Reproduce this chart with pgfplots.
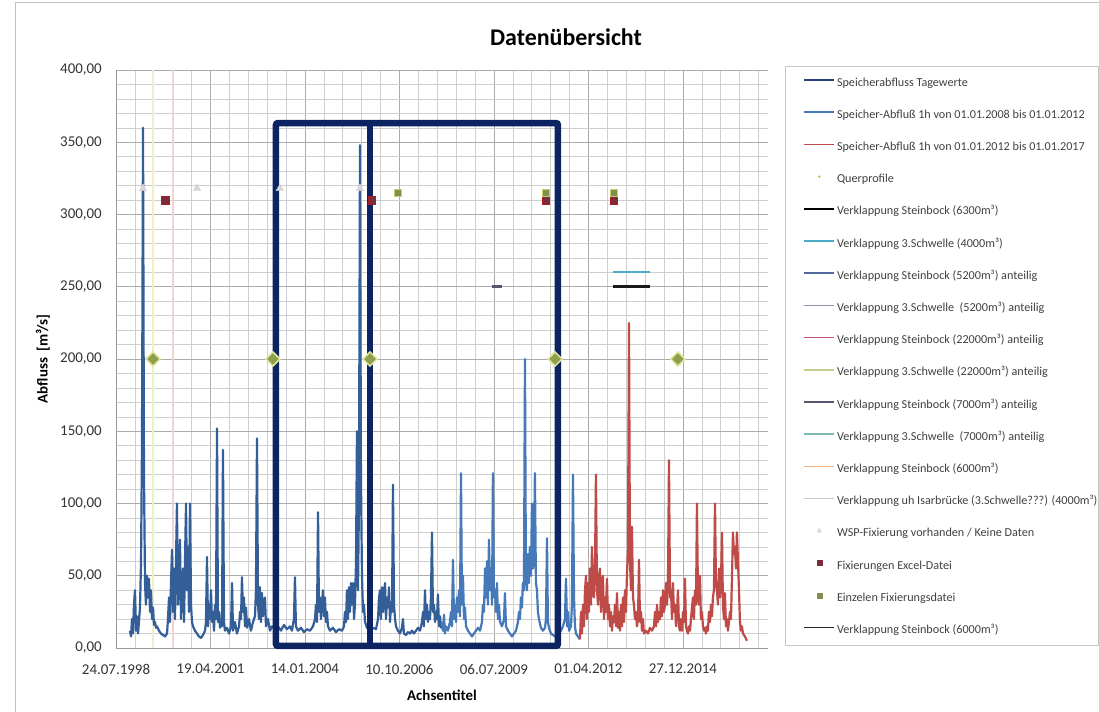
\documentclass[border=0pt]{standalone}
\usepackage{pgfplots}
\pgfplotsset{compat=1.18}
\usepackage{fontspec}
\setmainfont{Carlito}
\definecolor{sA}{HTML}{335E98}
\definecolor{sB}{HTML}{4679B8}
\definecolor{sC}{HTML}{BE4B48}
\definecolor{qp}{HTML}{8E9F4E}
\definecolor{qpglow}{HTML}{E2E6A0}
\definecolor{maroonsq}{HTML}{7B2C3B}
\definecolor{olivesq}{HTML}{7F8F4D}
\definecolor{wsp}{HTML}{D6D6D6}
\definecolor{navybox}{HTML}{0C2461}
\definecolor{cyanL}{HTML}{4BACC6}
\definecolor{lgA}{HTML}{23427A}
\definecolor{lgSeven}{HTML}{4F6A9A}
\definecolor{lgEight}{HTML}{8D8FB5}
\definecolor{lgNine}{HTML}{C0506E}
\definecolor{lgTen}{HTML}{C9CC8F}
\definecolor{lgEleven}{HTML}{5A5470}
\definecolor{lgTwelve}{HTML}{7FBABA}
\definecolor{lgThirteen}{HTML}{F5B27E}
\definecolor{lgFourteen}{HTML}{C8C8C8}
\definecolor{paleY}{HTML}{EEF0C4}
\definecolor{paleP}{HTML}{F3D2D2}
\begin{document}
\begin{tikzpicture}[x=1bp,y=1bp]
\path[use as bounding box] (0,0) rectangle (1099,-712);
\draw[black!25, line width=1bp] (15,-712) -- (15,-3) -- (1099,-3);
\node[font=\bfseries\fontsize{24}{28}\selectfont] at (566,-37) {Datenübersicht};
\draw[black!22, line width=0.8bp] (785,-66) rectangle (1098,-645);
\begin{axis}[
  at={(116bp,-648bp)}, anchor=south west,
  scale only axis, width=652bp, height=578bp,
  xmin=36000, xmax=42900, ymin=0, ymax=400,
  clip=false,
  scaled x ticks=false, scaled y ticks=false,
  axis lines*=left,
  axis line style={draw=black!40, line width=0.8bp},
  xtick={36000,37000,38000,39000,40000,41000,42000},
  xticklabels={24.07.1998,19.04.2001,14.01.2004,10.10.2006,06.07.2009,01.04.2012,27.12.2014},
  ytick={0,50,100,150,200,250,300,350,400},
  yticklabels={{0,00},{50,00},{100,00},{150,00},{200,00},{250,00},{300,00},{350,00},{400,00}},
  minor xtick={36200,36400,...,42800},
  minor ytick={10,20,...,390},
  grid=both,
  major grid style={draw=black!33, line width=0.8bp},
  minor grid style={draw=black!19, line width=0.6bp},
  major tick length=0pt, minor tick length=0pt,
  tick label style={font=\fontsize{15}{18}\selectfont, text=black!80},
  xticklabel style={anchor=center, yshift=-21bp},
  yticklabel style={anchor=east, inner sep=0pt, xshift=-14bp},
  ylabel={Abfluss\ \ [m³/s]},
  ylabel style={at={(axis description cs:-0.112,0.5)}, anchor=center, font=\bfseries\fontsize{15}{18}\selectfont},
  xlabel={Achsentitel},
  xlabel style={at={(axis description cs:0.5,-0.0813)}, anchor=center, font=\bfseries\fontsize{15}{18}\selectfont},
  legend image code/.code={\draw[mark repeat=2,mark phase=2,#1] plot coordinates {(0bp,3bp) (15bp,3bp) (30bp,3bp)};},
  legend style={at={(axis description cs:1.0537,0.987)}, anchor=north west, draw=none, fill=none,
    inner sep=0pt, outer sep=0pt, row sep=21.2bp,
    font=\fontsize{12.2}{14}\selectfont,
    nodes={inner xsep=1.5bp, inner ysep=0pt, text height=8.5bp, text depth=2.5bp, text=black!75}},
  legend cell align=left,
]
% faint vertical lines
\addplot[paleY, line width=1.5bp, forget plot] coordinates {(36392,0) (36392,400)};
\addplot[paleP, line width=1.5bp, forget plot] coordinates {(36603,0) (36603,400)};
% series 1 daily
\addplot[sA, line width=2.2bp, line join=round, forget plot] coordinates {
(36148,12)(36159,8)(36169,20)(36180,10)(36190,30)(36201,40)(36212,12)(36222,22)(36233,10)(36243,18)(36254,28)(36265,60)(36275,142)(36286,360)(36296,120)(36307,45)(36317,30)(36328,50)(36339,35)(36349,48)(36360,25)(36370,40)(36381,20)(36392,28)(36402,16)(36413,18)(36423,14)(36434,15)(36455,12)(36476,10)(36497,9)(36519,8)(36540,10)(36550,20)(36561,35)(36571,18)(36582,45)(36593,68)(36603,25)(36614,55)(36624,20)(36635,60)(36645,100)(36656,30)(36667,50)(36677,75)(36688,20)(36698,45)(36709,55)(36720,18)(36730,60)(36741,100)(36751,40)(36762,70)(36772,25)(36783,100)(36794,30)(36804,18)(36815,15)(36836,12)(36857,10)(36878,8)(36899,7)(36921,9)(36942,12)(36952,18)(36963,63)(36974,15)(36984,30)(36995,20)(37005,40)(37016,18)(37027,25)(37037,12)(37048,30)(37058,20)(37069,152)(37079,18)(37090,25)(37101,14)(37111,20)(37122,15)(37132,137)(37143,18)(37153,12)(37174,14)(37196,10)(37217,15)(37228,45)(37238,12)(37259,18)(37280,10)(37302,15)(37312,25)(37323,20)(37333,49)(37344,25)(37354,35)(37365,15)(37376,28)(37386,14)(37407,20)(37428,12)(37450,18)(37471,22)(37481,40)(37492,145)(37503,30)(37513,20)(37524,42)(37534,18)(37545,38)(37556,22)(37566,30)(37577,35)(37587,15)(37608,20)(37630,12)(37651,15)(37682,13)(37714,15)(37746,12)(37777,16)(37809,13)(37841,15)(37862,12)(37883,20)(37894,49)(37904,15)(37926,12)(37958,14)(37989,11)(38021,13)(38053,12)(38085,15)(38106,20)(38116,30)(38127,18)(38138,94)(38148,25)(38159,35)(38169,20)(38180,30)(38190,40)(38201,22)(38211,35)(38222,18)(38233,25)(38243,15)(38264,12)(38296,14)(38328,11)(38360,13)(38392,12)(38413,15)(38423,25)(38434,18)(38444,40)(38455,20)(38466,42)(38476,25)(38487,45)(38497,30)(38508,45)(38519,20)(38529,30)(38540,60)(38550,150)(38561,40)(38571,100)(38582,348)(38592,120)(38603,50)(38614,25)(38624,30)(38635,18)(38656,14)(38688,12)(38720,14)(38751,13)(38773,20)(38783,35)(38794,40)(38804,20)(38815,42)(38826,25)(38836,38)(38847,45)(38857,20)(38868,35)(38879,28)(38889,42)(38900,18)(38910,30)(38921,25)(38931,113)(38942,30)(38953,20)(38963,15)(38984,12)(39005,10)(39026,14)(39037,20)(39047,10)(39069,9)(39090,11)(39111,10)(39132,12)(39153,10)(39175,12)(39196,14)(39217,12)(39238,18)(39249,25)(39259,15)(39270,40)(39280,20)(39291,30)(39302,18)(39312,25)(39323,20)(39333,35)(39344,80)(39354,25)(39365,30)(39376,18)(39386,25)(39397,20)(39407,37)(39418,15)(39429,22)(39439,14)(39448,18)
};
% series 2 hourly 2008-2012
\addplot[sB, line width=2.2bp, line join=round, forget plot] coordinates {
(39448,18)(39460,12)(39471,23)(39481,10)(39492,15)(39513,12)(39534,18)(39545,25)(39555,15)(39566,61)(39577,20)(39587,30)(39598,18)(39608,35)(39619,25)(39630,40)(39640,22)(39651,121)(39661,30)(39672,50)(39683,20)(39693,28)(39704,15)(39725,12)(39746,10)(39767,8)(39788,10)(39809,12)(39831,14)(39852,12)(39873,18)(39883,30)(39894,25)(39905,55)(39915,35)(39926,60)(39936,30)(39947,75)(39958,40)(39968,55)(39979,30)(39989,121)(40000,35)(40011,40)(40021,25)(40032,45)(40042,20)(40053,30)(40064,18)(40085,15)(40106,20)(40116,38)(40127,15)(40148,12)(40169,10)(40190,8)(40212,10)(40233,12)(40254,18)(40264,25)(40275,20)(40285,35)(40296,28)(40306,45)(40317,40)(40328,200)(40338,50)(40349,40)(40359,65)(40370,45)(40380,70)(40391,50)(40402,100)(40412,55)(40423,60)(40433,121)(40444,45)(40455,40)(40465,25)(40476,20)(40497,14)(40518,12)(40540,14)(40550,20)(40561,76)(40571,18)(40582,14)(40603,10)(40624,9)(40645,8)(40667,8)(40688,10)(40709,12)(40730,15)(40751,20)(40762,48)(40773,15)(40783,25)(40794,12)(40815,15)(40825,30)(40836,120)(40847,35)(40857,15)(40868,10)(40889,8)(40910,6)
};
% series 3 hourly 2012-2017
\addplot[sC, line width=2.2bp, line join=round, forget plot] coordinates {
(40910,6)(40921,25)(40931,10)(40942,30)(40952,15)(40963,40)(40974,50)(40984,20)(40995,45)(41005,25)(41016,55)(41027,30)(41037,70)(41048,40)(41058,35)(41069,55)(41079,120)(41090,40)(41101,30)(41111,50)(41122,55)(41132,25)(41143,40)(41153,50)(41164,20)(41175,35)(41185,25)(41196,48)(41206,20)(41217,30)(41228,15)(41238,25)(41249,12)(41259,22)(41270,18)(41280,30)(41291,15)(41302,38)(41312,14)(41323,25)(41333,12)(41344,30)(41355,15)(41365,35)(41376,18)(41386,40)(41397,25)(41407,50)(41418,70)(41429,225)(41439,60)(41450,40)(41460,84)(41471,35)(41481,30)(41492,20)(41503,25)(41513,15)(41524,20)(41535,61)(41545,18)(41556,25)(41566,12)(41577,20)(41587,10)(41609,12)(41630,10)(41651,14)(41672,12)(41693,15)(41704,25)(41715,15)(41725,30)(41736,18)(41746,25)(41757,20)(41767,35)(41778,22)(41789,40)(41799,25)(41810,30)(41820,45)(41831,30)(41842,50)(41852,130)(41863,35)(41873,40)(41884,20)(41894,45)(41905,25)(41916,30)(41926,15)(41937,25)(41947,40)(41958,15)(41968,12)(41979,20)(41990,12)(42000,25)(42011,18)(42021,48)(42032,15)(42042,12)(42053,10)(42064,15)(42074,12)(42085,20)(42095,28)(42106,35)(42116,20)(42127,40)(42138,30)(42148,100)(42159,35)(42169,30)(42180,50)(42190,20)(42201,25)(42212,15)(42222,12)(42233,14)(42243,10)(42254,15)(42264,12)(42275,25)(42286,18)(42296,30)(42307,22)(42317,35)(42328,40)(42339,100)(42349,45)(42360,40)(42370,30)(42381,55)(42391,35)(42402,45)(42413,80)(42423,30)(42434,20)(42444,38)(42455,15)(42466,20)(42476,12)(42487,18)(42497,25)(42508,20)(42519,50)(42529,80)(42540,65)(42550,70)(42561,55)(42571,80)(42582,60)(42593,40)(42603,18)(42614,12)(42624,15)(42635,10)(42656,8)(42677,5)
};
% Querprofile
\addplot[only marks, mark=square*, mark size=5bp, mark options={rotate=45, fill=qp, draw=qpglow, line width=1.5bp}, forget plot] coordinates {(36392,200)(37661,200)(38688,200)(40646,200)(41947,200)};
% Verklappung lines
\addplot[black!90, line width=3bp, forget plot] coordinates {(41259,250)(41651,250)};
\addplot[cyanL, line width=2bp, forget plot] coordinates {(41259,260)(41651,260)};
\addplot[lgEleven, line width=3bp, forget plot] coordinates {(39979,250)(40085,250)};
% WSP triangles
\addplot[only marks, mark=triangle*, mark size=4.5bp, mark options={fill=wsp, draw=wsp}, forget plot] coordinates {(36286,318)(36857,318)(37735,318)(38582,318)};
% Fixierungen Excel
\addplot[only marks, mark=square*, mark size=3.8bp, mark options={fill=maroonsq, draw=red!40!maroonsq, line width=0.6bp}, forget plot] coordinates {(36519,310)(38709,310)(40550,310)(41270,310)};
% Einzelen
\addplot[only marks, mark=square*, mark size=3.8bp, mark options={fill=olivesq, draw=olivesq!60!yellow!70!white, line width=0.6bp}, forget plot] coordinates {(38984,315)(40550,315)(41270,315)};
% annotation frame
\draw[navybox, line width=6.5bp, rounded corners=2bp] (axis cs:37693,1.4) rectangle (axis cs:40677,363.3);
\draw[navybox, line width=6.5bp] (axis cs:38688,1.4) -- (axis cs:38688,363.3);
% legend
\addlegendimage{lgA, line width=1.6bp}
\addlegendentry{Speicherabfluss Tagewerte}
\addlegendimage{sB, line width=1.6bp}
\addlegendentry{Speicher-Abfluß 1h von 01.01.2008 bis 01.01.2012}
\addlegendimage{sC, line width=1.6bp}
\addlegendentry{Speicher-Abfluß 1h von 01.01.2012 bis 01.01.2017}
\addlegendimage{only marks, mark=*, mark size=1.3bp, mark options={fill=qp, draw=qpglow}}
\addlegendentry{Querprofile}
\addlegendimage{black, line width=2.5bp}
\addlegendentry{Verklappung Steinbock (6300m³)}
\addlegendimage{cyanL, line width=1.6bp}
\addlegendentry{Verklappung 3.Schwelle (4000m³)}
\addlegendimage{lgSeven, line width=1.6bp}
\addlegendentry{Verklappung Steinbock (5200m³) anteilig}
\addlegendimage{lgEight, line width=1.6bp}
\addlegendentry{Verklappung 3.Schwelle\ \ (5200m³) anteilig}
\addlegendimage{lgNine, line width=1.6bp}
\addlegendentry{Verklappung Steinbock (22000m³) anteilig}
\addlegendimage{lgTen, line width=1.6bp}
\addlegendentry{Verklappung 3.Schwelle (22000m³) anteilig}
\addlegendimage{lgEleven, line width=1.6bp}
\addlegendentry{Verklappung Steinbock (7000m³) anteilig}
\addlegendimage{lgTwelve, line width=1.6bp}
\addlegendentry{Verklappung 3.Schwelle\ \ (7000m³) anteilig}
\addlegendimage{lgThirteen, line width=1.6bp}
\addlegendentry{Verklappung Steinbock (6000m³)}
\addlegendimage{lgFourteen, line width=1bp}
\addlegendentry{Verklappung uh Isarbrücke (3.Schwelle???) (4000m³)}
\addlegendimage{only marks, mark=triangle*, mark size=2.5bp, mark options={fill=wsp, draw=wsp}}
\addlegendentry{WSP-Fixierung vorhanden / Keine Daten}
\addlegendimage{only marks, mark=square*, mark size=2.5bp, mark options={fill=maroonsq, draw=maroonsq}}
\addlegendentry{Fixierungen Excel-Datei}
\addlegendimage{only marks, mark=square*, mark size=2.5bp, mark options={fill=olivesq, draw=olivesq}}
\addlegendentry{Einzelen Fixierungsdatei}
\addlegendimage{black!85, line width=1.6bp}
\addlegendentry{Verklappung Steinbock (6000m³)}
\end{axis}
\end{tikzpicture}
\end{document}
